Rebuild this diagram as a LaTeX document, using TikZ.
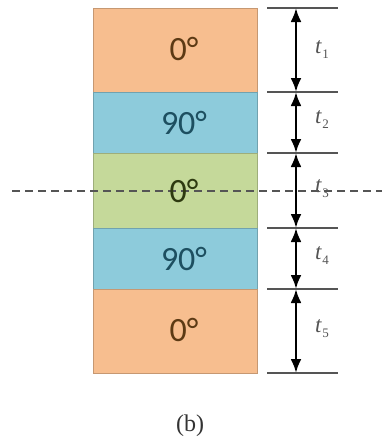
\documentclass[tikz,border=0pt]{standalone}
\usepackage{fontspec}
\setmainfont{Liberation Serif}
\newfontfamily\carl{Carlito}
\newfontfamily\tser{Liberation Serif}
\usetikzlibrary{arrows.meta}
\definecolor{ply0}{HTML}{F7BE8F}
\definecolor{ply90}{HTML}{8DCBDB}
\definecolor{plymid}{HTML}{C5D99A}
\definecolor{txt0}{HTML}{5C3A14}
\definecolor{txt90}{HTML}{1D4F60}
\definecolor{txtmid}{HTML}{2E3A10}
\definecolor{dimgray}{HTML}{555555}
\tikzset{
  layer/.style={rectangle, minimum width=164pt, inner sep=0pt, outer sep=0pt, line width=0.7pt},
  plytext/.style={font=\carl\fontsize{34}{34}\selectfont, inner sep=0pt},
  dimline/.style={draw=dimgray, line width=1.4pt},
  dimarrow/.style={line width=2.6pt, {Latex[length=14pt,width=11pt]}-{Latex[length=14pt,width=11pt]}},
  tlab/.style={text=dimgray, font=\tser\itshape\fontsize{23}{23}\selectfont, inner sep=0pt},
  midline/.style={draw=dimgray, dashed, dash pattern=on 8pt off 5pt, line width=1.3pt}
}
\newcommand{\tl}[1]{t\kern1pt\raisebox{-5pt}{\normalfont\fontsize{13}{13}\selectfont #1}}
\begin{document}
\begin{tikzpicture}[x=1pt,y=-1pt]
\useasboundingbox (0,0) rectangle (382,447);
% layers
\node[layer, minimum height=84pt, fill=ply0, draw=ply0!80!black] (L1) at (175,50) {};
\node[layer, minimum height=61pt, fill=ply90, draw=ply90!80!black] (L2) at (175,122.5) {};
\node[layer, minimum height=75pt, fill=plymid, draw=plymid!80!black] (L3) at (175,190.5) {};
\node[layer, minimum height=61pt, fill=ply90, draw=ply90!80!black] (L4) at (175,258.5) {};
\node[layer, minimum height=84pt, fill=ply0, draw=ply0!80!black] (L5) at (175,331) {};
% mid-plane dashed line
\coordinate (dA) at (12,191);
\coordinate (dB) at (382,191);
\draw[midline] (dA) -- (dB);
% layer labels
\node[plytext, text=txt0] (T1) at (184,49) {0°};
\node[plytext, text=txt90] (T2) at (184,123) {90°};
\node[plytext, text=txtmid] (T3) at (184,191) {0°};
\node[plytext, text=txt90] (T4) at (184,259) {90°};
\node[plytext, text=txt0] (T5) at (184,330) {0°};
% dimension lines
\foreach \i/\y in {0/8,1/92,2/153,3/228,4/289,5/373}{
  \coordinate (s\i) at (267,\y);
  \coordinate (e\i) at (338,\y);
  \coordinate (m\i) at (296,\y);
  \draw[dimline] (s\i) -- (e\i);
}
\draw[dimarrow] (m0) -- (m1);
\draw[dimarrow] (m1) -- (m2);
\draw[dimarrow] (m2) -- (m3);
\draw[dimarrow] (m3) -- (m4);
\draw[dimarrow] (m4) -- (m5);
\node[tlab] (t1) at (322,50) {\tl{1}};
\node[tlab] (t2) at (322,120) {\tl{2}};
\node[tlab] (t3) at (322,189) {\tl{3}};
\node[tlab] (t4) at (322,256) {\tl{4}};
\node[tlab] (t5) at (322,329) {\tl{5}};
\node[font=\fontsize{24}{24}\selectfont, text=black!80] (cap) at (190,426) {(b)};
\end{tikzpicture}
\end{document}
